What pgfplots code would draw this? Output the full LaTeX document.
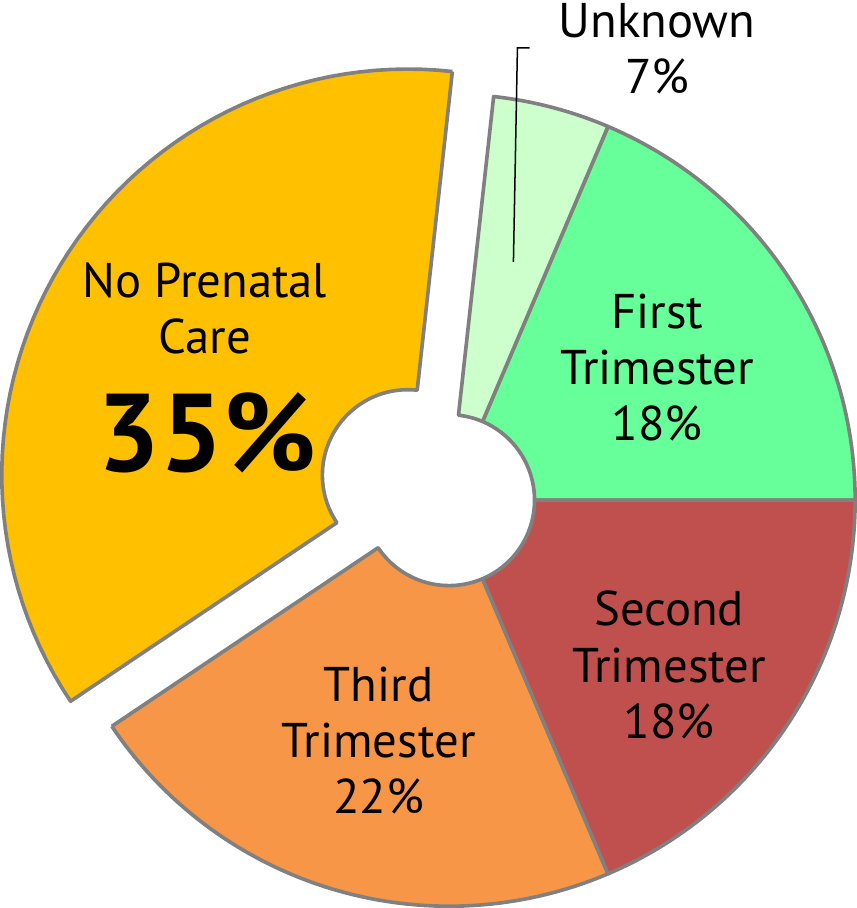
\documentclass[border=0pt]{standalone}
\usepackage{pgfplots}
\pgfplotsset{compat=1.18}
\usepackage{fontspec}
\setmainfont{PT Sans}
\definecolor{cNo}{HTML}{FFC000}
\definecolor{cUnk}{HTML}{CCFFCC}
\definecolor{cFirst}{HTML}{66FF99}
\definecolor{cSecond}{HTML}{C0504D}
\definecolor{cThird}{HTML}{F79646}
\definecolor{edge}{HTML}{808080}
% slice percentages (as drawn)
\def\pFirst{18.6}\def\pUnk{4.65}\def\pNo{36.15}\def\pThird{22.0}\def\pSecond{18.6}
\def\Rout{404}\def\Rin{85}
% color, cx, cy, start angle, end angle
\newcommand{\slice}[5]{%
  \addplot[fill=#1, draw=edge, line width=3.6pt, line join=round, samples at={0,1,...,122}, variable=\t]
  ({#2 + (\t<=60 ? \Rout : (\t<=121 ? \Rin : \Rout))*cos(\t<=60 ? #4+(#5-#4)*\t/60 : (\t<=121 ? #5-(#5-#4)*(\t-61)/60 : #4))},
   {#3 + (\t<=60 ? \Rout : (\t<=121 ? \Rin : \Rout))*sin(\t<=60 ? #4+(#5-#4)*\t/60 : (\t<=121 ? #5-(#5-#4)*(\t-61)/60 : #4))});
}
\begin{document}
\begin{tikzpicture}
\pgfmathsetmacro{\aA}{0}
\pgfmathsetmacro{\aB}{\aA+3.6*\pFirst}
\pgfmathsetmacro{\aC}{\aB+3.6*\pUnk}
\pgfmathsetmacro{\aD}{\aC+3.6*\pNo}
\pgfmathsetmacro{\aE}{\aD+3.6*\pThird}
\pgfmathsetmacro{\aF}{\aE+3.6*\pSecond}
\pgfmathsetmacro{\mid}{(\aC+\aD)/2}
\pgfmathsetmacro{\ex}{448+48*cos(\mid)}
\pgfmathsetmacro{\ey}{409+48*sin(\mid)}
\begin{axis}[
  scale only axis, width=856pt, height=908pt,
  xmin=0, xmax=856, ymin=0, ymax=908,
  hide axis, clip=false,
]
\slice{cFirst}{448}{409}{\aA}{\aB}
\slice{cUnk}{448}{409}{\aB}{\aC}
\slice{cNo}{\ex}{\ey}{\aC}{\aD}
\slice{cThird}{448}{409}{\aD}{\aE}
\slice{cSecond}{448}{409}{\aE}{\aF}
\addplot[black, line width=1.5pt] coordinates {(528,859) (516,859) (512,646)};
\node[align=center, font=\fontsize{48.5}{56}\selectfont] at (axis cs:205,600) {No Prenatal\\Care};
\node[font=\fontsize{110}{120}\selectfont\bfseries] at (axis cs:207,476) {35\%};
\node[align=center, font=\fontsize{48.5}{56}\selectfont] at (axis cs:655,541) {First\\Trimester\\18\%};
\node[align=center, font=\fontsize{48.5}{56}\selectfont] at (axis cs:655,858) {Unknown\\7\%};
\node[align=center, font=\fontsize{48.5}{56}\selectfont] at (axis cs:667,245) {Second\\Trimester\\18\%};
\node[align=center, font=\fontsize{48.5}{56}\selectfont] at (axis cs:378,170) {Third\\Trimester\\22\%};
\end{axis}
\end{tikzpicture}
\end{document}
